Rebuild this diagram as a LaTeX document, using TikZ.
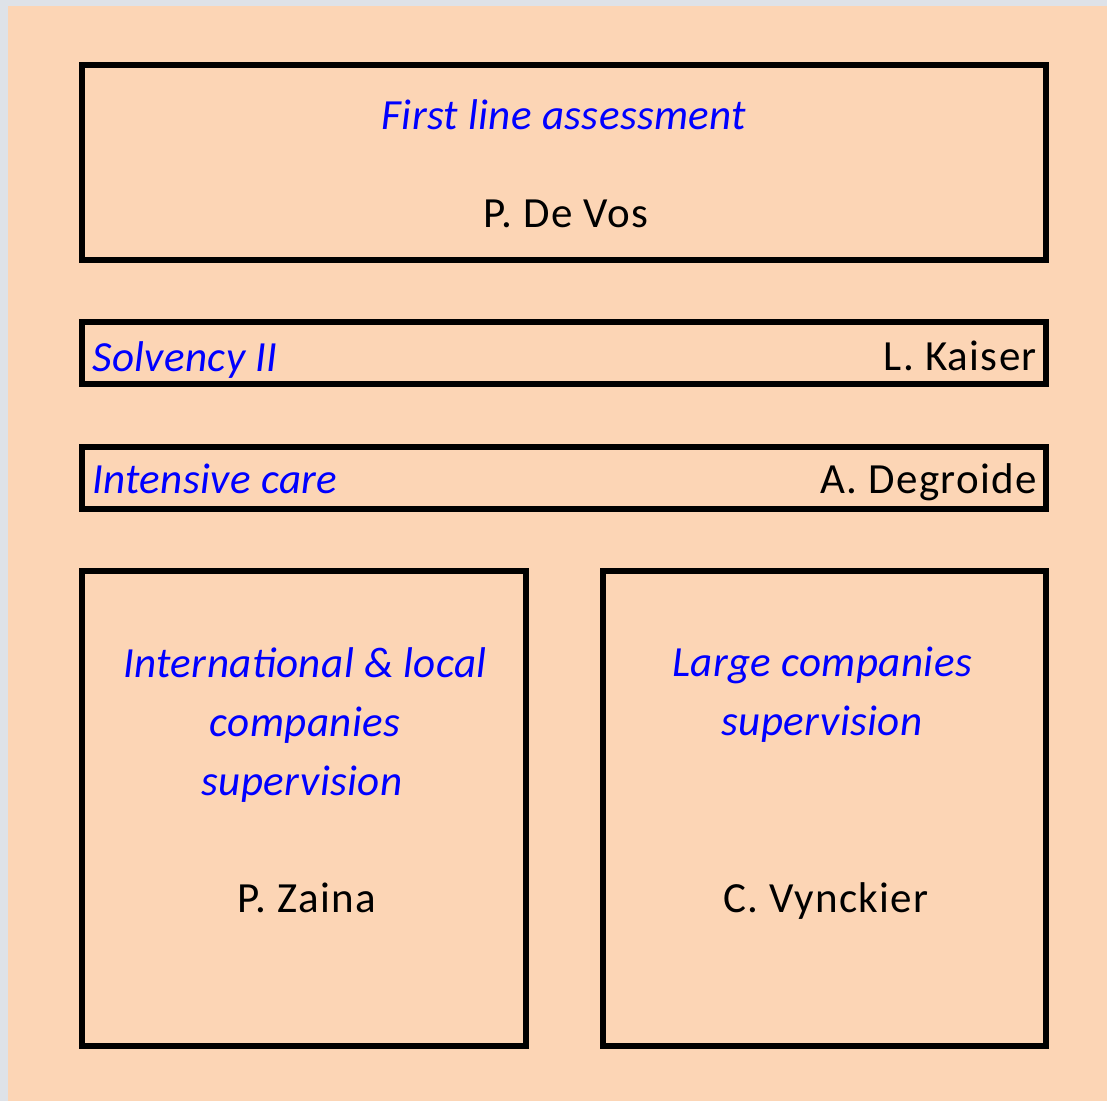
\documentclass[tikz,border=0pt]{standalone}
\usepackage{fontspec}
\setmainfont{Carlito}[LetterSpace=3,ItalicFeatures={LetterSpace=1}]
\definecolor{peach}{RGB}{252,213,181}
\definecolor{frame}{RGB}{222,226,232}
\definecolor{tblue}{RGB}{0,0,255}
\begin{document}
\begin{tikzpicture}[x=1pt,y=-1pt,
  box/.style={draw=black,line width=6pt},
  ttltext/.style={text=tblue,font=\fontsize{43}{59}\selectfont\itshape,inner sep=0pt},
  nmtext/.style={text=black,font=\fontsize{43}{59}\selectfont,inner sep=0pt}]
\useasboundingbox (0,0) rectangle (1107,1101);
\fill[frame] (0,0) rectangle (1107,1101);
\fill[peach] (8,6) rectangle (1107,1101);
\draw[box] (82,65) rectangle (1046,260);
\draw[box] (82,322) rectangle (1046,384);
\draw[box] (82,447) rectangle (1046,509);
\draw[box] (82,571) rectangle (526,1046);
\draw[box] (603,571) rectangle (1046,1046);
\node[ttltext,anchor=base] (t1) at (564,129) {First line assessment};
\node[nmtext,anchor=base] (n1) at (566,227) {P. De Vos};
\node[ttltext,anchor=base west] (t2) at (92,371) {Solvency II};
\node[nmtext,anchor=base east] (n2) at (1037,370) {L. Kaiser};
\node[ttltext,anchor=base west] (t3) at (92,493) {Intensive care};
\node[nmtext,anchor=base east] (n3) at (1037,493) {A. Degroide};
\node[ttltext,anchor=base] (t4a) at (305,677) {International \& local};
\node[ttltext,anchor=base] (t4b) at (305,736) {companies};
\node[ttltext,anchor=base] (t4c) at (302,795) {supervision};
\node[nmtext,anchor=base] (n4) at (307,912) {P. Zaina};
\node[ttltext,anchor=base] (t5a) at (822,676) {Large companies};
\node[ttltext,anchor=base] (t5b) at (822,735) {supervision};
\node[nmtext,anchor=base] (n5) at (826,912) {C. Vynckier};
\end{tikzpicture}
\end{document}
